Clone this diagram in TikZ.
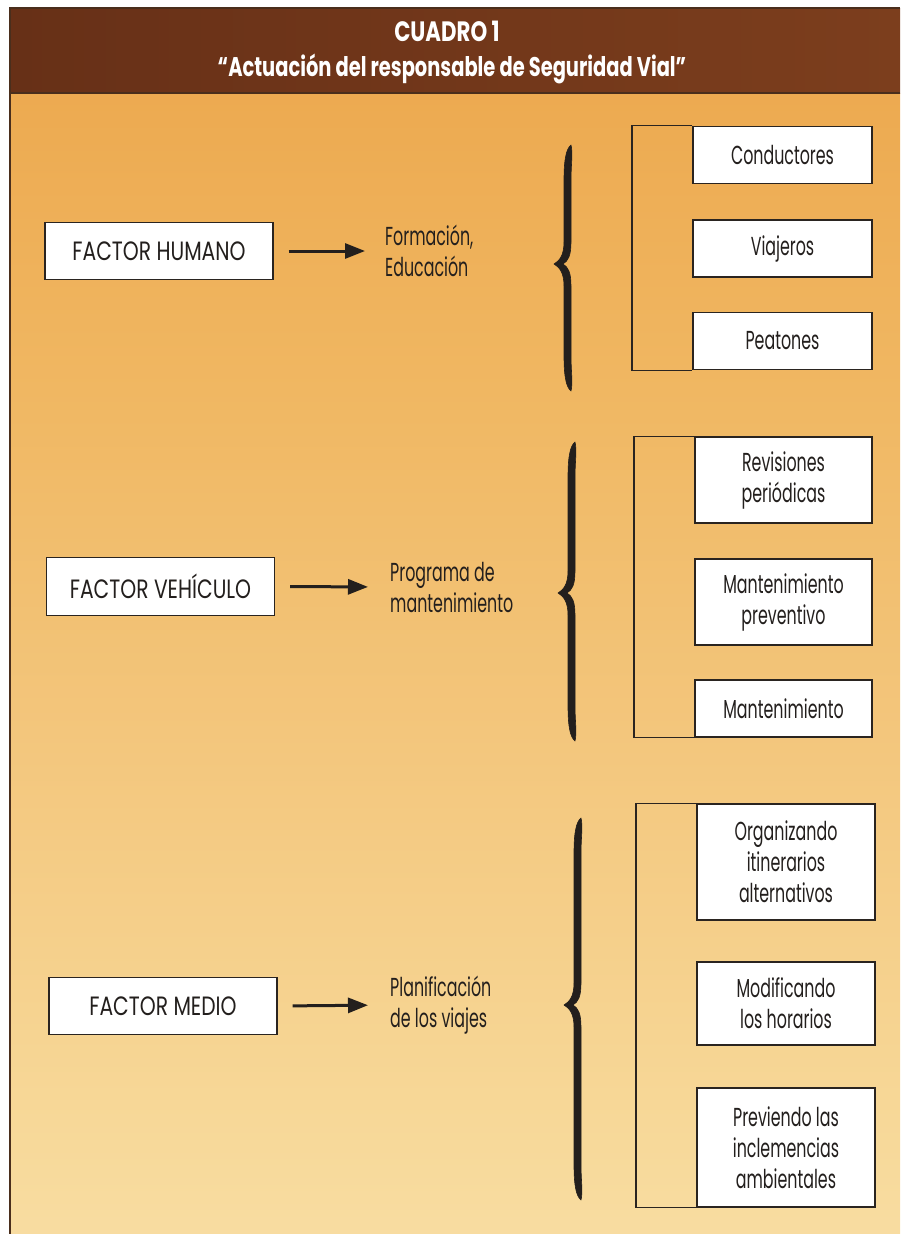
\documentclass[tikz,border=0pt]{standalone}
\usepackage{fontspec}
\setmainfont[FakeStretch=0.61]{Poppins}
\newfontfamily\widefont[FakeStretch=0.765]{Poppins}
\newfontfamily\subfont[FakeStretch=0.72]{Poppins}
\newfontfamily\cuadrofont[FakeStretch=0.76]{Poppins}
\usetikzlibrary{arrows.meta}
\definecolor{txt}{HTML}{231F1D}
\definecolor{boxline}{HTML}{2A2420}
\definecolor{bgA}{HTML}{E6953A}
\definecolor{bgAb}{HTML}{EAA043}
\definecolor{bgB}{HTML}{F0B762}
\definecolor{bgBb}{HTML}{F3C67C}
\definecolor{bgC}{HTML}{F7D898}
\definecolor{bgD}{HTML}{FAE8B8}
\definecolor{bgE}{HTML}{FCF2CE}
\definecolor{hdA}{HTML}{673017}
\definecolor{hdB}{HTML}{7C3E1D}
\definecolor{edge}{HTML}{4A2E1C}
\pgfdeclareverticalshading{bgsh}{100bp}{color(0bp)=(bgE); color(12bp)=(bgD); color(30bp)=(bgC); color(47bp)=(bgBb); color(62bp)=(bgB); color(85bp)=(bgAb); color(100bp)=(bgA)}
\newcommand{\calbrace}[4]{%
  \filldraw[brc] ({#1+4},#2)
    .. controls ({#1+6},{#2+8}) and ({#1+4},{#2+20}) .. ({#1+4},{#2+35})
    -- ({#1+4},{#3-22})
    .. controls ({#1+4},{#3-8}) and ({#1+1},{#3-3}) .. ({#1-4},#3)
    .. controls ({#1+1},{#3+3}) and ({#1+4},{#3+8}) .. ({#1+4},{#3+22})
    -- ({#1+4},{#4-35})
    .. controls ({#1+4},{#4-20}) and ({#1+6},{#4-8}) .. ({#1+4},#4)
    .. controls ({#1-1},{#4-4}) and ({#1-3},{#4-15}) .. ({#1-3},{#4-35})
    -- ({#1-3},{#3+22})
    .. controls ({#1-3},{#3+8}) and ({#1-8},{#3+3}) .. ({#1-13},#3)
    .. controls ({#1-8},{#3-3}) and ({#1-3},{#3-8}) .. ({#1-3},{#3-22})
    -- ({#1-3},{#2+35})
    .. controls ({#1-3},{#2+15}) and ({#1-1},{#2+4}) .. ({#1+4},#2) -- cycle;}
\begin{document}
\begin{tikzpicture}[x=1pt,y=-1pt,
  fbox/.style={draw=boxline, line width=1.3pt, fill=white, inner sep=0pt, align=center, text=txt, font=\fontsize{26}{31}\selectfont},
  factor/.style={fbox, minimum width=228, font=\widefont\fontsize{26.5}{31}\selectfont},
  lbl/.style={anchor=west, inner sep=0pt, align=left, text=txt, font=\fontsize{26}{31}\selectfont},
  arr/.style={draw=txt, line width=3pt, -{Triangle[length=20pt,width=15pt]}},
  frm/.style={draw=boxline, line width=1.2pt},
  brc/.style={fill=txt, draw=txt, line width=0.6pt, line join=round},
  head/.style={text=white, inner sep=0pt}]
\useasboundingbox (0,0) rectangle (900,1234);
\fill[white] (0,0) rectangle (900,1234);
% body background
\shade[shading=bgsh] (10,93) rectangle (900,1234);
% header band
\shade[left color=hdA, right color=hdB] (10,8) rectangle (900,93);
\draw[edge, line width=1.6pt] (900,8) -- (10,8) -- (10,1234);
\draw[edge, line width=1.6pt] (10,93) -- (900,93);
\node[head, font=\cuadrofont\bfseries\fontsize{28}{30}\selectfont] (t1) at (447,31) {CUADRO 1};
\node[head, font=\subfont\bfseries\fontsize{27}{30}\selectfont] (t2) at (452,69) {“Actuación del responsable de Seguridad Vial”};

% ---------- group 1
\node[factor, minimum height=57] (hum) at (159,251) {FACTOR HUMANO};
\node[lbl] (edu) at (385,251) {Formación,\\Educación};
\draw[arr, shorten <=15pt, shorten >=20pt] (hum.east) -- (edu.west);
\calbrace{567}{145}{264}{391}
\node[fbox, minimum width=179, minimum height=57] (c1) at (782.5,155) {Conductores};
\node[fbox, minimum width=179, minimum height=57] (c2) at (782.5,248.5) {Viajeros};
\node[fbox, minimum width=179, minimum height=57] (c3) at (782.5,341) {Peatones};
\coordinate (f1) at (632,250);
\draw[frm] (c1.north west) -| (f1) |- (c3.south west);

% ---------- group 2
\node[factor, minimum height=58] (veh) at (160.5,586.5) {FACTOR VEHÍCULO};
\node[lbl] (prog) at (390,587) {Programa de\\mantenimiento};
\draw[arr, shorten <=15pt, shorten >=22pt] (veh.east) -- (prog.west);
\calbrace{571}{442}{593}{741}
\node[fbox, minimum width=177, minimum height=86] (r1) at (783.5,480) {Revisiones\\periódicas};
\node[fbox, minimum width=177, minimum height=86] (r2) at (783.5,602) {Mantenimiento\\preventivo};
\node[fbox, minimum width=177, minimum height=57] (r3) at (783.5,708.5) {Mantenimiento};
\coordinate (f2) at (634,590);
\draw[frm] (r1.north west) -| (f2) |- (r3.south west);

% ---------- group 3
\node[factor, minimum height=57] (med) at (163,1006) {FACTOR MEDIO};
\node[lbl] (plan) at (390,1005) {Planificación\\de los viajes};
\draw[arr, shorten <=15pt, shorten >=22pt] (med.east) -- (plan.west);
\calbrace{577}{818}{1005}{1200}
\node[fbox, minimum width=178, minimum height=116] (o1) at (786,862) {Organizando\\itinerarios\\alternativos};
\node[fbox, minimum width=178, minimum height=83] (o2) at (786,1003.5) {Modificando\\los horarios};
\node[fbox, minimum width=178, minimum height=119] (o3) at (786,1147.5) {Previendo las\\inclemencias\\ambientales};
\coordinate (f3) at (636,1000);
\draw[frm] (o1.north west) -| (f3) |- (o3.south west);
\end{tikzpicture}
\end{document}
